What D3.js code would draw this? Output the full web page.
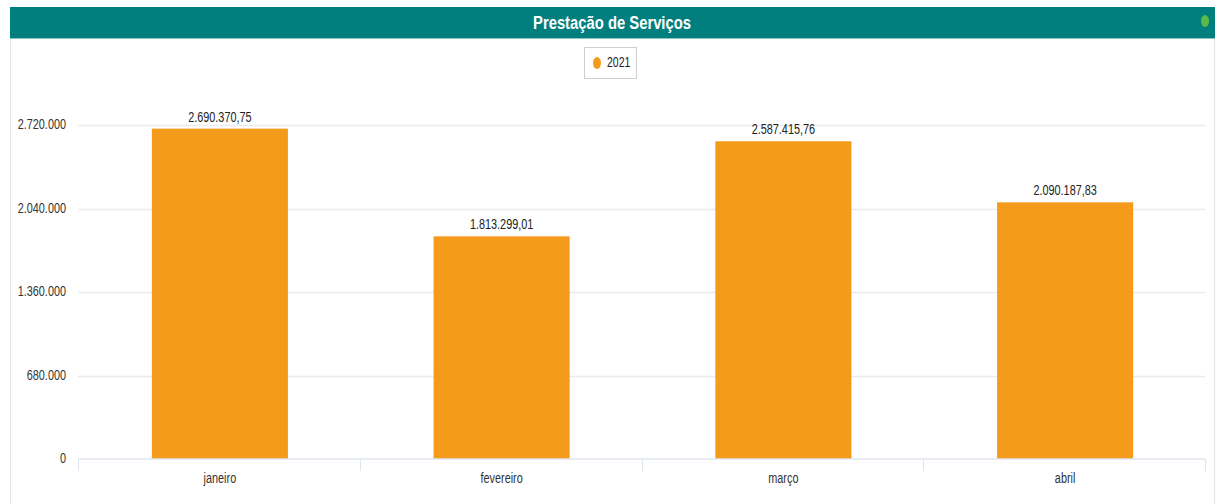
<!DOCTYPE html>
<html><head><meta charset="utf-8">
<script src="https://cdn.jsdelivr.net/npm/d3@7"></script>
<style>body{margin:0;background:#fff;}svg{display:block;}</style>
</head><body>
<script>
const categories = ["janeiro","fevereiro","março","abril"];
const values2021 = [2690370.75, 1813299.01, 2587415.76, 2090187.83];
const valueLabels = ["2.690.370,75","1.813.299,01","2.587.415,76","2.090.187,83"];
const yTicks = [0, 680000, 1360000, 2040000, 2720000];
const yTickLabels = ["0","680.000","1.360.000","2.040.000","2.720.000"];
const seriesName = "2021";
const title = "Prestação de Serviços";

const W = 1221, H = 504;
const svg = d3.select("body").append("svg").attr("width", W).attr("height", H);
const FONT = "'Liberation Sans', Arial, sans-serif";
const SX = 0.75;

function ctext(g, x, y, str, opts) {
  const t = g.append("g").attr("transform", `translate(${x},${y}) scale(${opts.sx||SX},1)`)
    .append("text").text(str)
    .attr("text-anchor", opts.anchor || "middle")
    .attr("dominant-baseline", "central")
    .attr("font-family", FONT)
    .attr("font-size", opts.size || 13)
    .attr("font-weight", opts.weight || "normal")
    .attr("fill", opts.fill || "#333");
  return t;
}

// frame
svg.append("line").attr("x1",10.5).attr("x2",10.5).attr("y1",7).attr("y2",H).attr("stroke","#e4e4e4");
svg.append("line").attr("x1",1214.5).attr("x2",1214.5).attr("y1",7).attr("y2",H).attr("stroke","#e4e4e4");
// title bar
svg.append("rect").attr("x",10).attr("y",7).attr("width",1205).attr("height",32).attr("fill","#017f7e");
svg.append("line").attr("x1",10).attr("x2",1215).attr("y1",38.5).attr("y2",38.5).attr("stroke","#8cc4c2");
ctext(svg, 612, 23, title, {size:19, weight:"bold", fill:"#fff", sx:0.78});
svg.append("ellipse").attr("cx",1205).attr("cy",21).attr("rx",4).attr("ry",6).attr("fill","#5cb94a");

// legend
svg.append("rect").attr("x",584.5).attr("y",47.5).attr("width",52).attr("height",31)
  .attr("fill","#fff").attr("stroke","#cfcfcf");
svg.append("ellipse").attr("cx",597).attr("cy",63).attr("rx",4).attr("ry",6).attr("fill","#f59b1c");
ctext(svg, 607, 62, seriesName, {size:14, anchor:"start", fill:"#222"});

// scales
const x = d3.scaleBand().domain(categories).range([79, 1206]).paddingInner(0.517).paddingOuter(0.2585);
const y = d3.scaleLinear().domain([0, 2720000]).range([459, 125]);

// grid
svg.append("g").selectAll("line").data(yTicks.slice(1)).join("line")
  .attr("x1",78).attr("x2",1205)
  .attr("y1",d=>Math.round(y(d))+0.5).attr("y2",d=>Math.round(y(d))+0.5)
  .attr("stroke","#ebebeb").attr("stroke-width",1.5);

// y labels
yTicks.forEach((d,i)=>{ ctext(svg, 66, y(d)-1, yTickLabels[i], {size:14.5, anchor:"end", fill:"#333"}); });

// bars
svg.append("g").selectAll("rect").data(values2021).join("rect")
  .attr("x",(d,i)=>x(categories[i])).attr("width",x.bandwidth())
  .attr("y",d=>y(d)).attr("height",d=>y(0)-y(d)).attr("fill","#f59b1c");

// value labels
values2021.forEach((d,i)=>{ ctext(svg, x(categories[i])+x.bandwidth()/2, y(d)-12, valueLabels[i], {size:14.5, fill:"#222"}); });

// x axis
const xb = d3.scaleLinear().domain([0,4]).range([78,1205]);
svg.append("line").attr("x1",78).attr("x2",1205).attr("y1",459).attr("y2",459).attr("stroke","#dfe4ef").attr("stroke-width",1.5);
svg.append("g").selectAll("line").data(d3.range(5)).join("line")
  .attr("x1",d=>Math.round(xb(d))+0.5).attr("x2",d=>Math.round(xb(d))+0.5)
  .attr("y1",459).attr("y2",471).attr("stroke","#dfe4ef");
categories.forEach(c=>{ ctext(svg, x(c)+x.bandwidth()/2, 478, c, {size:14.5, fill:"#333"}); });
</script>
</body></html>
